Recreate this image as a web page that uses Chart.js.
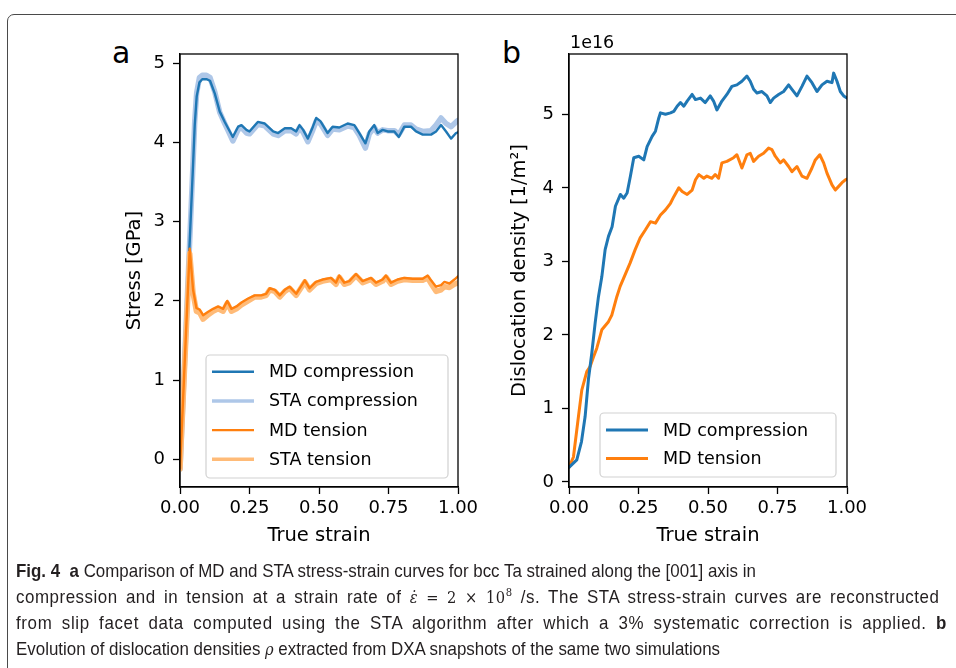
<!DOCTYPE html>
<html>
<head>
<meta charset="utf-8">
<script src="https://cdn.jsdelivr.net/npm/chart.js@4.4.1/dist/chart.umd.min.js"></script>
<style>
  html, body { margin: 0; padding: 0; background: #fff; }
  body { width: 956px; height: 668px; position: relative; overflow: hidden; }
  #frame { position: absolute; left: 7px; top: 14px; width: 990px; height: 720px;
           border: 1.3px solid #4a4a4a; border-radius: 7px; }
  canvas { position: absolute; }
  .letter { position: absolute; font-family: "DejaVu Sans", sans-serif; font-size: 30px;
            line-height: 30px; color: #000; }
  #caption { position: absolute; left: 16px; top: 558px; color: #231f20;
             font-family: "Liberation Sans Narrow", "Liberation Sans", sans-serif;
             font-size: 18.5px; line-height: 25.5px; }
  #caption div { white-space: nowrap; transform-origin: 0 50%; width: max-content; }
  #caption .m { font-family: "DejaVu Serif", serif; font-size: 16px; }
  #caption sup { font-size: 11px; line-height: 0; vertical-align: 7px; }
</style>
</head>
<body>
<div id="frame"></div>
<div class="letter" style="left:112px; top:38px;">a</div>
<div class="letter" style="left:502px; top:38px;">b</div>
<canvas id="stress" width="390" height="540" style="left:100px; top:20px;"></canvas>
<canvas id="density" width="390" height="540" style="left:490px; top:20px;"></canvas>
<div id="caption">
  <div><b>Fig. 4</b>&nbsp; <b>a</b> Comparison of MD and STA stress-strain curves for bcc Ta strained along the [001] axis in</div>
  <div data-w="924">compression and in tension at a strain rate of <span class="m"><i>ε̇</i> = 2 × 10<sup>8</sup></span> /s. The STA stress-strain curves are reconstructed</div>
  <div data-w="931">from slip facet data computed using the STA algorithm after which a 3% systematic correction is applied. <b>b</b></div>
  <div id="capLast">Evolution of dislocation densities <i class="m">ρ</i> extracted from DXA snapshots of the same two simulations</div>
</div>
<script>
// ---- panel a: stress-strain, [001] bcc Ta ----
const compStrain = [0, 0.033, 0.047, 0.053, 0.06, 0.07, 0.08, 0.095, 0.108, 0.125,
  0.143, 0.161, 0.173, 0.19, 0.209, 0.221, 0.239, 0.25, 0.28, 0.305,
  0.335, 0.353, 0.377, 0.40, 0.418, 0.43, 0.443, 0.46, 0.478, 0.49,
  0.505, 0.531, 0.549, 0.573, 0.603, 0.627, 0.645, 0.667, 0.681, 0.699,
  0.711, 0.729, 0.747, 0.771, 0.787, 0.807, 0.831, 0.849, 0.873, 0.903,
  0.921, 0.939, 0.957, 0.975, 0.993, 1.0];
const compMD = [-0.12, 2.6, 3.72, 4.22, 4.58, 4.76, 4.80, 4.80, 4.78, 4.62,
  4.39, 4.26, 4.18, 4.07, 4.20, 4.22, 4.16, 4.14, 4.26, 4.24,
  4.14, 4.12, 4.18, 4.18, 4.14, 4.22, 4.16, 4.05, 4.20, 4.31,
  4.27, 4.12, 4.20, 4.19, 4.24, 4.22, 4.12, 3.99, 4.14, 4.22,
  4.12, 4.16, 4.14, 4.14, 4.07, 4.20, 4.20, 4.14, 4.10, 4.10,
  4.14, 4.22, 4.14, 4.05, 4.12, 4.13];
const compSTA = [-0.12, 2.6, 3.75, 4.27, 4.63, 4.82, 4.85, 4.85, 4.82, 4.64,
  4.38, 4.24, 4.15, 4.02, 4.16, 4.19, 4.12, 4.11, 4.23, 4.21,
  4.11, 4.09, 4.15, 4.15, 4.11, 4.19, 4.13, 4.01, 4.16, 4.27,
  4.24, 4.09, 4.17, 4.16, 4.21, 4.19, 4.09, 3.93, 4.11, 4.19,
  4.12, 4.16, 4.15, 4.15, 4.10, 4.22, 4.22, 4.17, 4.14, 4.15,
  4.22, 4.31, 4.24, 4.20, 4.26, 4.28];

const tensStrain = [0, 0.035, 0.047, 0.059, 0.071, 0.083, 0.10, 0.119, 0.137, 0.155,
  0.170, 0.185, 0.203, 0.221, 0.245, 0.269, 0.292, 0.31, 0.323, 0.341,
  0.359, 0.377, 0.394, 0.418, 0.449, 0.466, 0.489, 0.513, 0.543, 0.561,
  0.573, 0.591, 0.609, 0.633, 0.657, 0.687, 0.705, 0.729, 0.741, 0.759,
  0.783, 0.807, 0.837, 0.873, 0.891, 0.903, 0.921, 0.939, 0.951, 0.969,
  0.987, 1.0];
const tensMD = [-0.12, 2.66, 2.14, 1.91, 1.89, 1.82, 1.86, 1.90, 1.93, 1.90,
  2.00, 1.90, 1.93, 1.98, 2.03, 2.07, 2.07, 2.09, 2.16, 2.14,
  2.07, 2.14, 2.18, 2.09, 2.26, 2.16, 2.24, 2.27, 2.29, 2.23,
  2.32, 2.23, 2.25, 2.34, 2.25, 2.29, 2.23, 2.27, 2.32, 2.23,
  2.27, 2.29, 2.28, 2.28, 2.32, 2.26, 2.18, 2.20, 2.24, 2.22,
  2.27, 2.31];
const tensSTA = [-0.12, 2.6, 2.10, 1.87, 1.85, 1.77, 1.82, 1.87, 1.90, 1.87,
  1.97, 1.87, 1.90, 1.95, 2.00, 2.05, 2.05, 2.07, 2.14, 2.12,
  2.05, 2.12, 2.16, 2.07, 2.24, 2.14, 2.22, 2.25, 2.27, 2.21,
  2.30, 2.21, 2.23, 2.32, 2.23, 2.27, 2.21, 2.25, 2.30, 2.21,
  2.25, 2.27, 2.26, 2.26, 2.29, 2.22, 2.12, 2.14, 2.18, 2.17,
  2.21, 2.23];

// ---- panel b: dislocation density, units of 1e16 1/m^2 ----
const rhoCompStrain = [0, 0.028, 0.045, 0.058, 0.07, 0.082, 0.094, 0.106, 0.118, 0.13, 0.142,
  0.155, 0.167, 0.185, 0.197, 0.209, 0.221, 0.233, 0.251, 0.269, 0.281,
  0.299, 0.311, 0.323, 0.329, 0.347, 0.365, 0.377, 0.389, 0.401, 0.413,
  0.425, 0.443, 0.455, 0.473, 0.49, 0.508, 0.52, 0.532, 0.55, 0.568,
  0.586, 0.604, 0.622, 0.64, 0.652, 0.664, 0.676, 0.694, 0.712, 0.724,
  0.736, 0.754, 0.772, 0.79, 0.802, 0.82, 0.838, 0.856, 0.874, 0.892,
  0.91, 0.928, 0.946, 0.952, 0.964, 0.976, 0.988, 1.0];
const rhoComp = [0.2, 0.30, 0.55, 0.89, 1.40, 1.75, 2.16, 2.52, 2.79, 3.16, 3.34,
  3.47, 3.75, 3.91, 3.86, 3.93, 4.16, 4.41, 4.43, 4.38, 4.56,
  4.70, 4.77, 4.95, 5.02, 5.00, 5.02, 5.04, 5.11, 5.16, 5.11,
  5.18, 5.27, 5.20, 5.22, 5.16, 5.25, 5.18, 5.06, 5.18, 5.27,
  5.38, 5.40, 5.45, 5.52, 5.45, 5.34, 5.29, 5.31, 5.25, 5.16,
  5.22, 5.27, 5.31, 5.40, 5.34, 5.25, 5.38, 5.52, 5.43, 5.31,
  5.40, 5.45, 5.43, 5.56, 5.45, 5.31, 5.25, 5.22];
const rhoTensStrain = [0, 0.016, 0.034, 0.046, 0.064, 0.076, 0.088, 0.10, 0.118, 0.142,
  0.154, 0.172, 0.184, 0.202, 0.22, 0.238, 0.256, 0.275, 0.293, 0.311,
  0.329, 0.347, 0.365, 0.377, 0.395, 0.407, 0.425, 0.443, 0.455, 0.467,
  0.485, 0.496, 0.514, 0.526, 0.538, 0.55, 0.568, 0.592, 0.604, 0.622,
  0.64, 0.652, 0.664, 0.682, 0.70, 0.718, 0.73, 0.742, 0.76, 0.772,
  0.79, 0.802, 0.82, 0.838, 0.856, 0.874, 0.886, 0.902, 0.916, 0.928,
  0.946, 0.958, 0.97, 0.982, 0.994, 1.0];
const rhoTens = [0.2, 0.34, 0.89, 1.25, 1.50, 1.57, 1.70, 1.82, 2.07, 2.18,
  2.27, 2.52, 2.66, 2.82, 2.98, 3.16, 3.32, 3.43, 3.54, 3.52,
  3.63, 3.70, 3.79, 3.88, 4.00, 3.95, 3.91, 3.97, 4.11, 4.18,
  4.13, 4.16, 4.13, 4.18, 4.13, 4.34, 4.36, 4.41, 4.45, 4.27,
  4.45, 4.47, 4.36, 4.43, 4.47, 4.54, 4.52, 4.43, 4.34, 4.38,
  4.29, 4.22, 4.29, 4.16, 4.13, 4.27, 4.38, 4.45, 4.34, 4.20,
  4.04, 3.97, 4.02, 4.07, 4.11, 4.12];

const strainTicks = [0, 0.25, 0.5, 0.75, 1];
const stressTicks = [0, 1, 2, 3, 4, 5];
const rhoTicks = [0, 1, 2, 3, 4, 5];

const FONT = '"DejaVu Sans", sans-serif';
const pts = (xs, ys) => xs.map((x, i) => ({ x: x, y: ys[i] }));

// full box around the plotting area (matplotlib style spines)
const frameBox = {
  id: 'frameBox',
  afterDraw(chart) {
    const { ctx, chartArea: a } = chart;
    ctx.save();
    ctx.strokeStyle = '#000';
    ctx.lineWidth = 1.3;
    ctx.strokeRect(a.left, a.top, a.right - a.left, a.bottom - a.top);
    ctx.restore();
  }
};

// legend drawn inside the axes, lower right
const insetLegend = {
  id: 'insetLegend',
  afterDatasetsDraw(chart, args, o) {
    const { ctx, chartArea: a } = chart;
    const x = a.left + o.dx, y = a.bottom - o.dy - o.h;
    ctx.save();
    ctx.beginPath();
    ctx.roundRect(x, y, o.w, o.h, 4);
    ctx.fillStyle = 'rgba(255,255,255,0.8)';
    ctx.fill();
    ctx.strokeStyle = 'rgba(204,204,204,0.9)';
    ctx.lineWidth = 1.2;
    ctx.stroke();
    ctx.font = '17.5px ' + FONT;
    ctx.textBaseline = 'middle';
    ctx.fillStyle = '#000';
    chart.data.datasets.forEach((ds, i) => {
      const cy = y + o.first + i * o.step;
      ctx.beginPath();
      ctx.moveTo(x + 6, cy);
      ctx.lineTo(x + 48, cy);
      ctx.strokeStyle = ds.borderColor;
      ctx.lineWidth = Math.min(ds.borderWidth, 3.5);
      ctx.stroke();
      ctx.fillText(ds.label, x + 63, cy + 1);
    });
    ctx.restore();
  }
};

// scale multiplier written above the y axis
const offsetText = {
  id: 'offsetText',
  afterDraw(chart, args, o) {
    if (!o.text) return;
    const { ctx, chartArea: a } = chart;
    ctx.save();
    ctx.font = '17.5px ' + FONT;
    ctx.fillStyle = '#000';
    ctx.textBaseline = 'alphabetic';
    ctx.fillText(o.text, a.left + 1, a.top - 6);
    ctx.restore();
  }
};

function axisCfg(min, max, ticks, fmt, title, extra) {
  return Object.assign({
    type: 'linear', min: min, max: max,
    afterBuildTicks: ax => { ax.ticks = ticks.map(v => ({ value: v })); },
    ticks: { callback: fmt, font: { family: FONT, size: 18 }, color: '#000',
             maxRotation: 0, autoSkip: false },
    grid: { drawOnChartArea: false, drawTicks: true, tickLength: 7, tickWidth: 1.3, tickColor: '#000' },
    border: { display: true, color: '#000', width: 1.3 },
    title: { display: true, text: title, color: '#000', font: { family: FONT, size: 19.5 } }
  }, extra);
}

function makeChart(id, datasets, yMin, yMax, yTicks, yTitle, yWidth, yTitlePad, padRight, legend, note) {
  const x = axisCfg(0, 1, strainTicks, v => v.toFixed(2), 'True strain', {
    afterFit: s => { s.height = 73; s.paddingLeft = 0; s.paddingRight = 0; }
  });
  x.ticks.padding = 4;
  x.title.padding = { top: 0, bottom: 12 };
  const y = axisCfg(yMin, yMax, yTicks, v => String(v), yTitle, {
    afterFit: s => { s.width = yWidth; s.paddingTop = 0; s.paddingBottom = 0; }
  });
  y.ticks.padding = 8;
  y.title.padding = { top: yTitlePad, bottom: 0 };
  return new Chart(document.getElementById(id), {
    type: 'line',
    data: { datasets: datasets },
    options: {
      responsive: false, animation: false, devicePixelRatio: 1,
      layout: { padding: { top: 34, right: padRight, left: 0, bottom: 0 } },
      elements: { point: { radius: 0 }, line: { tension: 0, borderCapStyle: 'round', borderJoinStyle: 'round' } },
      plugins: {
        legend: { display: false }, tooltip: { enabled: false },
        insetLegend: legend, offsetText: { text: note }
      },
      scales: { x: x, y: y }
    },
    plugins: [insetLegend, frameBox, offsetText]
  });
}

makeChart('stress', [
  { label: 'MD compression', data: pts(compStrain, compMD), borderColor: '#1f77b4', borderWidth: 2.4, order: 2 },
  { label: 'STA compression', data: pts(compStrain, compSTA), borderColor: '#aec7e8', borderWidth: 5.5, order: 3 },
  { label: 'MD tension', data: pts(tensStrain, tensMD), borderColor: '#ff7f0e', borderWidth: 2.4, order: 0 },
  { label: 'STA tension', data: pts(tensStrain, tensSTA), borderColor: '#ffbb78', borderWidth: 5.5, order: 1 }
], -0.35, 5.118, stressTicks, 'Stress [GPa]', 80, 23, 32,
  { dx: 26, dy: 9, w: 242, h: 123, first: 16.7, step: 29.2 }, '');

makeChart('density', [
  { label: 'MD compression', data: pts(rhoCompStrain, rhoComp), borderColor: '#1f77b4', borderWidth: 3 },
  { label: 'MD tension', data: pts(rhoTensStrain, rhoTens), borderColor: '#ff7f0e', borderWidth: 3 }
], -0.068, 5.82, rhoTicks, 'Dislocation density [1/m²]', 79, 18, 33,
  { dx: 31, dy: 10, w: 236, h: 64, first: 17, step: 28.5 }, '1e16');

// caption: one common horizontal squeeze; full lines are justified,
// half of the slack going to letter spacing and half to word spacing
const lastLine = document.getElementById('capLast');
const squeeze = 704 / lastLine.getBoundingClientRect().width;
document.querySelectorAll('#caption div').forEach(d => {
  if (d.dataset.w) {
    const w = d.getBoundingClientRect().width;
    const txt = d.textContent.trim();
    const gaps = txt.split(/\s+/).length - 1;
    const chars = txt.replace(/\s+/g, ' ').length;
    const slack = +d.dataset.w / squeeze - w;
    d.style.letterSpacing = (slack * 0.5 / chars) + 'px';
    d.style.wordSpacing = (slack * 0.5 / gaps) + 'px';
  }
  d.style.transform = 'scaleX(' + squeeze + ')';
});
</script>
</body>
</html>
